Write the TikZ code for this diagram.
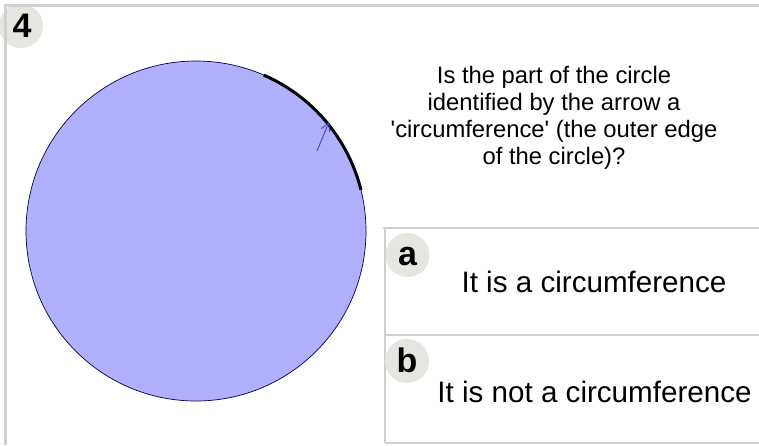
\documentclass[tikz,border=0pt]{standalone}
\usepackage{fontspec}
\setmainfont{Liberation Sans}
\usetikzlibrary{arrows.meta}
\definecolor{framegray}{HTML}{D0D0D0}
\definecolor{badgegray}{HTML}{E6E6E0}
\definecolor{discfill}{HTML}{B0B0FF}
\definecolor{arrowblue}{HTML}{4848A8}
\tikzset{
  frameline/.style={draw=framegray, line width=3pt},
  thinframe/.style={draw=framegray, line width=2pt},
  badge/.style={circle, fill=badgegray, minimum size=44pt, inner sep=0pt},
  badgetext/.style={font=\fontsize{34}{34}\selectfont\bfseries, inner sep=0pt, anchor=base},
  answertext/.style={font=\fontsize{29.6}{34}\selectfont, inner sep=0pt, anchor=base},
}
\begin{document}
\begin{tikzpicture}[x=1pt, y=-1pt]
\useasboundingbox (0,0) rectangle (759,445);
% badge 4
\node[badge] (b4) at (21,26) {};
\node[badgetext] (t4) at (22,37) {4};
% frame
\draw[frameline] (5,445) -- (5,5) -- (759,5);
% disc
\node[circle, fill=discfill, draw=black!70!blue, line width=0.7pt, minimum size=340pt, inner sep=0pt] (disc) at (196,231) {};
\draw[line width=3pt, black] (196,231) ++(14:170 and -170) arc[start angle=14, end angle=66.5, x radius=170, y radius=-170];
\coordinate (atail) at (317,151);
\coordinate (ahead) at (329,122);
\draw[arrowblue, line width=0.9pt, -{Straight Barb[length=8pt, width=9pt]}] (atail) -- (ahead);
% question
\node[font=\fontsize{23.8}{27}\selectfont, align=center, inner sep=0pt, anchor=north] (q) at (554,66) {Is the part of the circle\\identified by the arrow a\\\textquotesingle circumference\textquotesingle{} (the outer edge\\of the circle)?};
% answer boxes
\draw[thinframe] (383,228) -- (759,228);
\draw[thinframe] (385,228) -- (385,443);
\draw[thinframe] (385,335) -- (759,335);
\draw[thinframe] (385,443) -- (759,443);
\node[badge] (ba) at (407.5,255) {};
\node[badgetext] (ta) at (407.5,265) {a};
\node[answertext] (ansa) at (594,292) {It is a circumference};
\node[badge] (bb) at (407,361) {};
\node[badgetext] (tb) at (407,372) {b};
\node[answertext] (ansb) at (594.5,402) {It is not a circumference};
\end{tikzpicture}
\end{document}
